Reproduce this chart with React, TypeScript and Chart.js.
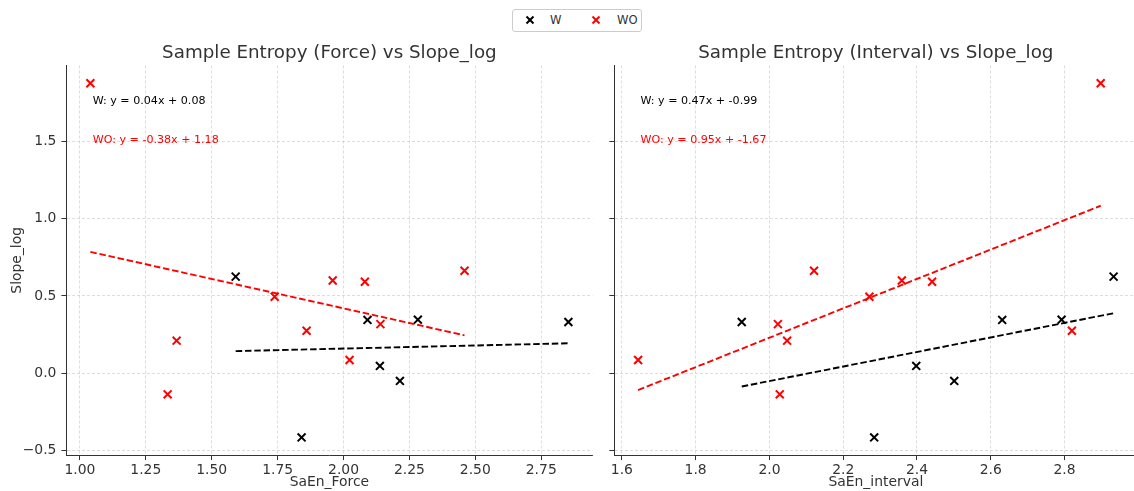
import React, { useEffect, useRef } from "react";
import { Chart, registerables } from "chart.js";

Chart.register(...registerables);

const FONT = "'DejaVu Sans', 'Liberation Sans', sans-serif";

// Shared y values (Slope_log)
const W_SLOPE = [0.625, 0.345, 0.347, 0.332, 0.048, -0.049, -0.414];
const W_FORCE = [1.591, 2.091, 2.282, 2.853, 2.138, 2.214, 1.841];
const W_INTERVAL = [2.933, 2.631, 2.792, 1.925, 2.398, 2.501, 2.284];

const WO_SLOPE = [1.875, -0.136, 0.211, 0.495, 0.275, 0.6, 0.086, 0.592, 0.318, 0.663];
const WO_FORCE = [1.04, 1.333, 1.367, 1.739, 1.86, 1.959, 2.023, 2.081, 2.14, 2.459];
const WO_INTERVAL = [2.898, 2.028, 2.048, 2.271, 2.82, 2.359, 1.644, 2.441, 2.023, 2.121];

// Fitted lines: [slope, intercept]
const FIT_FORCE_W = [0.04, 0.08];
const FIT_FORCE_WO = [-0.38, 1.18];
const FIT_INTERVAL_W = [0.47, -0.99];
const FIT_INTERVAL_WO = [0.95, -1.67];

// Tick labels
const FORCE_TICKS = [1.0, 1.25, 1.5, 1.75, 2.0, 2.25, 2.5, 2.75];
const INTERVAL_TICKS = [1.6, 1.8, 2.0, 2.2, 2.4, 2.6, 2.8];
const Y_TICKS = [-0.5, 0.0, 0.5, 1.0, 1.5];

const SERIES_NAMES = ["W", "WO"];
const SERIES_COLORS = ["#000000", "#ff0000"];

const TITLES = ["Sample Entropy (Force) vs Slope_log", "Sample Entropy (Interval) vs Slope_log"];
const X_TITLES = ["SaEn_Force", "SaEn_interval"];
const Y_TITLE = "Slope_log";

const Y_MIN = -0.5285;
const Y_MAX = 1.9895;

type Panel = {
  title: string;
  xTitle: string;
  xW: number[];
  xWO: number[];
  fitW: number[];
  fitWO: number[];
  xTicks: number[];
  xDecimals: number;
  xMin: number;
  xMax: number;
  showY: boolean;
  yAxisW: number;
  padRight: number;
};

const fmtNum = (v: number, d: number) => (v < 0 ? "\u2212" + Math.abs(v).toFixed(d) : v.toFixed(d));

function fitLine(xs: number[], fit: number[]) {
  const lo = Math.min(...xs);
  const hi = Math.max(...xs);
  return [
    { x: lo, y: fit[0] * lo + fit[1] },
    { x: hi, y: fit[0] * hi + fit[1] },
  ];
}

function eqLabel(name: string, fit: number[]) {
  return `${name}: y = ${fit[0].toFixed(2)}x + ${fit[1].toFixed(2)}`;
}

function buildConfig(p: Panel): any {
  const pts = (xs: number[], ys: number[]) => xs.map((x, i) => ({ x, y: ys[i] }));
  const scatterDs = (label: string, data: any[], color: string) => ({
    label,
    data,
    pointStyle: "crossRot",
    pointRadius: 5.6,
    pointHoverRadius: 5.6,
    borderWidth: 2,
    borderColor: color,
    backgroundColor: color,
    showLine: false,
    order: 2,
  });
  const lineDs = (data: any[], color: string) => ({
    label: "",
    data,
    showLine: true,
    pointRadius: 0,
    pointHoverRadius: 0,
    borderColor: color,
    borderWidth: 1.9,
    borderDash: [6.5, 2.8],
    fill: false,
    order: 1,
  });

  const labels = [eqLabel(SERIES_NAMES[0], p.fitW), eqLabel(SERIES_NAMES[1], p.fitWO)];

  const textPlugin = {
    id: "panelText",
    afterDraw(chart: any) {
      const { ctx, chartArea: a } = chart;
      ctx.save();
      ctx.font = `18.3px ${FONT}`;
      ctx.fillStyle = "#333333";
      ctx.textAlign = "center";
      ctx.textBaseline = "alphabetic";
      ctx.fillText(p.title, (a.left + a.right) / 2, a.top - 7.5);
      ctx.font = `11.1px ${FONT}`;
      ctx.textAlign = "left";
      labels.forEach((t, i) => {
        ctx.fillStyle = SERIES_COLORS[i];
        ctx.fillText(t, a.left + 0.05 * (a.right - a.left), a.bottom - (0.9 - 0.1 * i) * (a.bottom - a.top));
      });
      ctx.restore();
    },
  };

  const gridOpts = {
    color: "rgba(176,176,176,0.55)",
    lineWidth: 0.8,
    drawTicks: true,
    tickLength: 5,
    tickColor: "#333333",
    tickWidth: 1,
    tickBorderDash: [],
  };
  const borderOpts = { display: true, color: "#333333", width: 1, dash: [3, 2] };
  const tickFont = { size: 13.9, family: FONT };

  return {
    type: "scatter",
    data: {
      datasets: [
        scatterDs(SERIES_NAMES[0], pts(p.xW, W_SLOPE), SERIES_COLORS[0]),
        scatterDs(SERIES_NAMES[1], pts(p.xWO, WO_SLOPE), SERIES_COLORS[1]),
        lineDs(fitLine(p.xW, p.fitW), SERIES_COLORS[0]),
        lineDs(fitLine(p.xWO, p.fitWO), SERIES_COLORS[1]),
      ],
    },
    options: {
      animation: false,
      responsive: false,
      events: [],
      layout: { padding: { top: 65.5, bottom: 0, left: 0, right: p.padRight } },
      plugins: { legend: { display: false }, tooltip: { enabled: false }, title: { display: false } },
      scales: {
        x: {
          type: "linear",
          bounds: "data",
          min: p.xMin,
          max: p.xMax,
          afterBuildTicks: (s: any) => {
            s.ticks = p.xTicks.map((v) => ({ value: v }));
          },
          afterFit: (s: any) => {
            s.height = 35.9;
          },
          ticks: {
            callback: (v: any) => fmtNum(Number(v), p.xDecimals),
            color: "#333333",
            font: tickFont,
            padding: 2,
            maxRotation: 0,
            autoSkip: false,
          },
          grid: gridOpts,
          border: borderOpts,
          title: {
            display: true,
            text: p.xTitle,
            color: "#333333",
            font: { size: 13.9, family: FONT },
            padding: { top: 0, bottom: 0 },
          },
        },
        y: {
          type: "linear",
          bounds: "data",
          min: Y_MIN,
          max: Y_MAX,
          afterBuildTicks: (s: any) => {
            s.ticks = Y_TICKS.map((v) => ({ value: v }));
          },
          afterFit: (s: any) => {
            s.width = p.yAxisW;
          },
          ticks: {
            display: p.showY,
            callback: (v: any) => fmtNum(Number(v), 1),
            color: "#333333",
            font: tickFont,
            padding: 5,
            autoSkip: false,
          },
          grid: gridOpts,
          border: borderOpts,
          title: {
            display: p.showY,
            text: Y_TITLE,
            color: "#333333",
            font: { size: 13.9, family: FONT },
            padding: { top: 8.6, bottom: 0 },
          },
        },
      },
    },
    plugins: [textPlugin],
  };
}

const PANELS: Panel[] = [
  {
    title: TITLES[0],
    xTitle: X_TITLES[0],
    xW: W_FORCE,
    xWO: WO_FORCE,
    fitW: FIT_FORCE_W,
    fitWO: FIT_FORCE_WO,
    xTicks: FORCE_TICKS,
    xDecimals: 2,
    xMin: 0.949,
    xMax: 2.944,
    showY: true,
    yAxisW: 66.4,
    padRight: 3,
  },
  {
    title: TITLES[1],
    xTitle: X_TITLES[1],
    xW: W_INTERVAL,
    xWO: WO_INTERVAL,
    fitW: FIT_INTERVAL_W,
    fitWO: FIT_INTERVAL_WO,
    xTicks: INTERVAL_TICKS,
    xDecimals: 1,
    xMin: 1.5795,
    xMax: 2.9975,
    showY: false,
    yAxisW: 14.3,
    padRight: 1.1,
  },
];

function PanelChart({ panel, left, width }: { panel: Panel; left: number; width: number }) {
  const ref = useRef<HTMLCanvasElement | null>(null);
  useEffect(() => {
    if (!ref.current) return;
    const chart = new Chart(ref.current, buildConfig(panel));
    return () => chart.destroy();
  }, [panel]);
  return (
    <canvas
      ref={ref}
      width={width}
      height={491}
      style={{ position: "absolute", left, top: 0, width, height: 491 }}
    />
  );
}

function Marker({ color, left }: { color: string; left: number }) {
  return (
    <svg width={10} height={10} style={{ position: "absolute", left, top: 5 }}>
      <line x1={1.5} y1={1.5} x2={8.5} y2={8.5} stroke={color} strokeWidth={2} />
      <line x1={8.5} y1={1.5} x2={1.5} y2={8.5} stroke={color} strokeWidth={2} />
    </svg>
  );
}

export default function App() {
  return (
    <div
      style={{
        position: "absolute",
        left: 0,
        top: 0,
        width: 1134,
        height: 491,
        overflow: "hidden",
        background: "#ffffff",
      }}
    >
      <PanelChart panel={PANELS[0]} left={0} width={600} />
      <PanelChart panel={PANELS[1]} left={600} width={545} />
      <div
        style={{
          position: "absolute",
          left: 512,
          top: 9,
          width: 130,
          height: 23,
          border: "1px solid #cccccc",
          borderRadius: 3,
          boxSizing: "border-box",
          background: "#ffffff",
          fontFamily: FONT,
          fontSize: 11.6,
          color: "#333333",
        }}
      >
        <Marker color={SERIES_COLORS[0]} left={11.5} />
        <span style={{ position: "absolute", left: 37, top: 3, lineHeight: "14px" }}>{SERIES_NAMES[0]}</span>
        <Marker color={SERIES_COLORS[1]} left={78} />
        <span style={{ position: "absolute", left: 104, top: 3, lineHeight: "14px" }}>{SERIES_NAMES[1]}</span>
      </div>
    </div>
  );
}
